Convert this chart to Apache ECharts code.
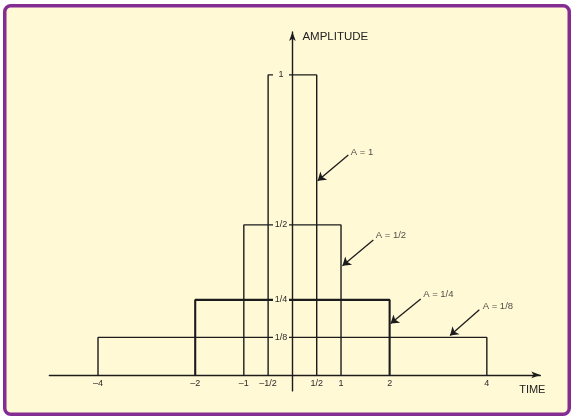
<!DOCTYPE html>
<html>
<head>
<meta charset="utf-8">
<script src="https://cdn.jsdelivr.net/npm/echarts@6/dist/echarts.min.js"></script>
<style>
html,body{margin:0;padding:0;background:#ffffff;}
#chart{width:574px;height:417px;}
</style>
</head>
<body>
<div id="chart"></div>
<script>
// Pulse data: amplitude and half-width of each rectangular pulse
const amplitudes = [1, 0.5, 0.25, 0.125];
const halfWidths = [0.5, 1, 2, 4];
const pulseNames = ['A = 1', 'A = 1/2', 'A = 1/4', 'A = 1/8'];

// Tick labels
const xTicks = [-4, -2, -1, -0.5, 0.5, 1, 2, 4];
const xTickLabels = ['\u20134', '\u20132', '\u20131', '\u20131/2', '1/2', '1', '2', '4'];
const yTicks = [0.125, 0.25, 0.5, 1];
const yTickLabels = ['1/8', '1/4', '1/2', '1'];

// Annotation arrows (data coordinates): label anchor, arrow start, arrow tip
const labelAt = [[1.20, 0.742], [1.714, 0.464], [2.69, 0.268], [3.915, 0.228]];
const arrowFrom = [[1.150, 0.733], [1.665, 0.450], [2.64, 0.253], [3.846, 0.217]];
const arrowTo = [[0.52, 0.647], [1.03, 0.364], [2.02, 0.171], [3.243, 0.131]];

const ink = '#1c1c1c';
const cream = '#FFF9D6';
const font = 'Liberation Sans, Arial, sans-serif';

// Layout
const W = 574, H = 417;
const grid = { left: 49.4, right: 33.7, top: 32, bottom: 26.1 };
const xRange = [-5, 5.1];
const yRange = [-0.0533, 1.143];
const gridW = W - grid.left - grid.right;
const gridH = H - grid.top - grid.bottom;
const yAxisOffset = -(0 - xRange[0]) / (xRange[1] - xRange[0]) * gridW;
const xAxisOffset = -(0 - yRange[0]) / (yRange[1] - yRange[0]) * gridH;

const pulseSeries = amplitudes.map((a, i) => ({
  type: 'line',
  name: pulseNames[i],
  data: [[-halfWidths[i], 0], [-halfWidths[i], a], [halfWidths[i], a], [halfWidths[i], 0]],
  showSymbol: false,
  symbol: 'none',
  lineStyle: { color: ink, width: i === 2 ? 2.1 : 1.4 },
  z: 2,
  silent: true,
  animation: false
}));

const arrowSeries = {
  type: 'lines',
  coordinateSystem: 'cartesian2d',
  data: arrowFrom.map((p, i) => ({ coords: [p, arrowTo[i]] })),
  symbol: ['none', 'arrow'],
  symbolSize: 8,
  lineStyle: { color: ink, width: 1.3, opacity: 1 },
  z: 3,
  silent: true,
  animation: false
};

const labelSeries = {
  type: 'scatter',
  data: labelAt.map((p, i) => ({ value: p, name: pulseNames[i] })),
  symbolSize: 0,
  label: {
    show: true,
    position: 'right',
    distance: 0,
    formatter: p => p.name,
    color: '#222',
    fontSize: 9.5,
    fontFamily: font
  },
  z: 4,
  silent: true,
  animation: false
};

const chart = echarts.init(document.getElementById('chart'), null, { renderer: 'canvas' });
chart.setOption({
  backgroundColor: '#ffffff',
  animation: false,
  graphic: [{
    type: 'rect',
    z: -100,
    shape: { x: 4.75, y: 5.75, width: 564.5, height: 408.5, r: 6 },
    style: { fill: cream, stroke: '#852C92', lineWidth: 3.5 },
    silent: true
  }],
  grid: { left: grid.left, right: grid.right, top: grid.top, bottom: grid.bottom, containLabel: false },
  xAxis: {
    type: 'value',
    min: xRange[0],
    max: xRange[1],
    position: 'bottom',
    offset: xAxisOffset,
    name: 'TIME',
    nameLocation: 'end',
    nameGap: -8,
    nameTextStyle: {
      color: '#222', fontSize: 11, fontFamily: font,
      align: 'center', verticalAlign: 'top', padding: [10, 0, 0, 0]
    },
    axisLine: {
      onZero: false,
      symbol: ['none', 'arrow'],
      symbolSize: [5, 9],
      lineStyle: { color: ink, width: 1.4 }
    },
    axisTick: { show: false },
    splitLine: { show: false },
    axisLabel: {
      customValues: xTicks,
      formatter: v => xTickLabels[xTicks.indexOf(v)] ?? '',
      margin: 4,
      color: '#2a2a2a',
      fontSize: 9,
      fontFamily: font
    }
  },
  yAxis: {
    type: 'value',
    min: yRange[0],
    max: yRange[1],
    position: 'left',
    offset: yAxisOffset,
    z: 10,
    name: 'AMPLITUDE',
    nameLocation: 'end',
    nameGap: -4.7,
    nameTextStyle: {
      color: '#222', fontSize: 11.5, fontFamily: font,
      align: 'left', verticalAlign: 'middle', padding: [0, 0, 0, 10]
    },
    axisLine: {
      onZero: false,
      symbol: ['none', 'arrow'],
      symbolSize: [5, 9],
      lineStyle: { color: ink, width: 1.4 }
    },
    axisTick: { show: false },
    splitLine: { show: false },
    axisLabel: {
      customValues: yTicks,
      formatter: v => yTickLabels[yTicks.indexOf(v)] ?? '',
      margin: 11.4,
      align: 'center',
      width: 14,
      padding: [1, 1],
      backgroundColor: cream,
      color: '#2a2a2a',
      fontSize: 9,
      fontFamily: font
    }
  },
  series: [...pulseSeries, arrowSeries, labelSeries]
});
</script>
</body>
</html>
